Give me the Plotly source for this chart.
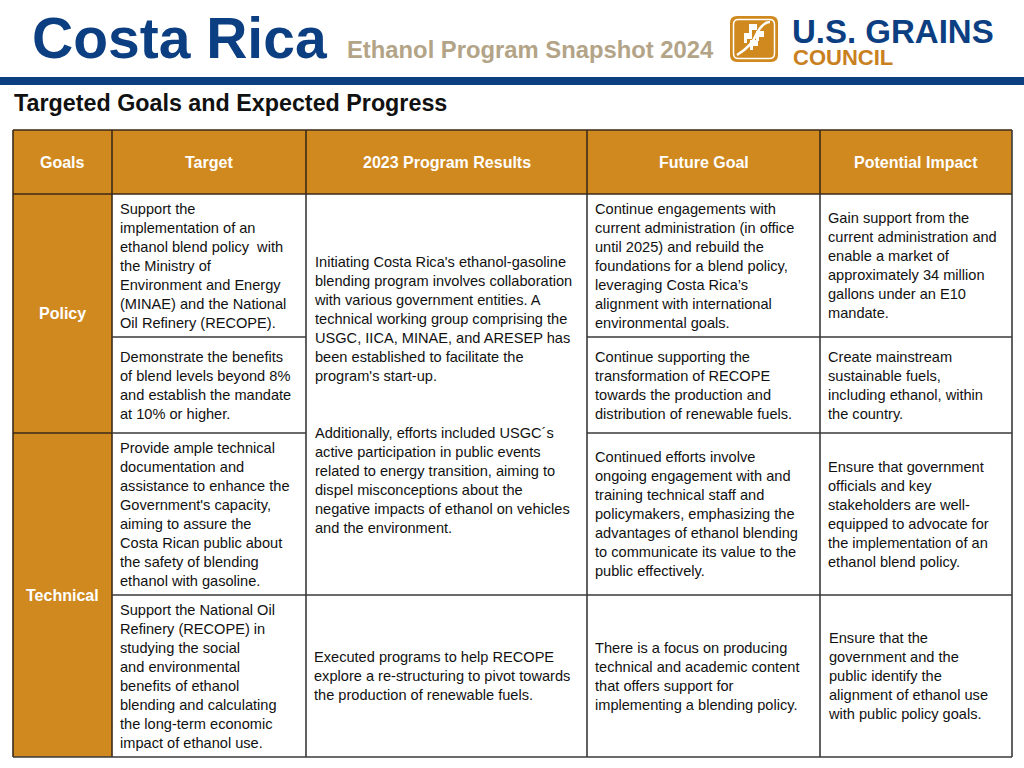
import plotly.graph_objects as go

# ---- content ----
title = "Costa Rica"
subtitle = "Ethanol Program Snapshot 2024"
section = "Targeted Goals and Expected Progress"
headers = ["Goals", "Target", "2023 Program Results", "Future Goal", "Potential Impact"]
goals = ["Policy", "Technical"]
targets = [
    "Support the<br>implementation of an<br>ethanol blend policy  with<br>the Ministry of<br>Environment and Energy<br>(MINAE) and the National<br>Oil Refinery (RECOPE).",
    "Demonstrate the benefits<br>of blend levels beyond 8%<br>and establish the mandate<br>at 10% or higher.",
    "Provide ample technical<br>documentation and<br>assistance to enhance the<br>Government's capacity,<br>aiming to assure the<br>Costa Rican public about<br>the safety of blending<br>ethanol with gasoline.",
    "Support the National Oil<br>Refinery (RECOPE) in<br>studying the social<br>and environmental<br>benefits of ethanol<br>blending and calculating<br>the long-term economic<br>impact of ethanol use.",
]
results = [
    "Initiating Costa Rica's ethanol-gasoline<br>blending program involves collaboration<br>with various government entities. A<br>technical working group comprising the<br>USGC, IICA, MINAE, and ARESEP has<br>been established to facilitate the<br>program's start-up.<br> <br> <br>Additionally, efforts included USGC\u00b4s<br>active participation in public events<br>related to energy transition, aiming to<br>dispel misconceptions about the<br>negative impacts of ethanol on vehicles<br>and the environment.",
    "Executed programs to help RECOPE<br>explore a re-structuring to pivot towards<br>the production of renewable fuels.",
]
future = [
    "Continue engagements with<br>current administration (in office<br>until 2025) and rebuild the<br>foundations for a blend policy,<br>leveraging Costa Rica\u2019s<br>alignment with international<br>environmental goals.",
    "Continue supporting the<br>transformation of RECOPE<br>towards the production and<br>distribution of renewable fuels.",
    "Continued efforts involve<br>ongoing engagement with and<br>training technical staff and<br>policymakers, emphasizing the<br>advantages of ethanol blending<br>to communicate its value to the<br>public effectively.",
    "There is a focus on producing<br>technical and academic content<br>that offers support for<br>implementing a blending policy.",
]
impact = [
    "Gain support from the<br>current administration and<br>enable a market of<br>approximately 34 million<br>gallons under an E10<br>mandate.",
    "Create mainstream<br>sustainable fuels,<br>including ethanol, within<br>the country.",
    "Ensure that government<br>officials and key<br>stakeholders are well-<br>equipped to advocate for<br>the implementation of an<br>ethanol blend policy.",
    "Ensure that the<br>government and the<br>public identify the<br>alignment of ethanol use<br>with public policy goals.",
]

# ---- layout grid (pixels) ----
cols = [13, 112, 306, 587, 820, 1012]
head_top, head_bot = 130, 194
rows = [194, 337, 433, 595, 757]

ORANGE = "#D0891F"
BLUE = "#0C3E82"
TAN = "#B3A487"
LINE = "#3a3a3a"
DARK = "#3b2a18"
BODY_FONT = "Liberation Sans, Arial, sans-serif"
HEAD_FONT = "Liberation Sans, Arial, sans-serif"

fig = go.Figure()
shapes = []
ann = []


def rect(x0, y0, x1, y1, fill, line=None, w=0):
    shapes.append(dict(type="rect", x0=x0, y0=y0, x1=x1, y1=y1, xref="x", yref="y",
                       fillcolor=fill, line=dict(color=line or fill, width=w), layer="below"))


def hline(x0, x1, y, color=LINE, w=1.6):
    shapes.append(dict(type="line", x0=x0, x1=x1, y0=y, y1=y, xref="x", yref="y",
                       line=dict(color=color, width=w)))


def vline(x, y0, y1, color=LINE, w=1.6):
    shapes.append(dict(type="line", x0=x, x1=x, y0=y0, y1=y1, xref="x", yref="y",
                       line=dict(color=color, width=w)))


def text(x, y, s, size, color="#111", family=BODY_FONT, xanchor="left", align="left", height=None):
    a = dict(x=x, y=y, xref="x", yref="y", text=s, showarrow=False,
             xanchor=xanchor, yanchor="middle", align=align,
             font=dict(size=size, color=color, family=family))
    if height:
        a["height"] = height
    ann.append(a)


# header band
rect(0, 77, 1024, 85, BLUE)
text(30, 38, "<b>" + title + "</b>", 57, BLUE, HEAD_FONT)
text(345, 49, "<b>" + subtitle + "</b>", 23.8, TAN, HEAD_FONT)
text(12, 103, "<b>" + section + "</b>", 23.3, "#111", HEAD_FONT)

# logo
def rounded(x0, y0, x1, y1, r):
    return (f"M{x0+r},{y0} L{x1-r},{y0} Q{x1},{y0} {x1},{y0+r} L{x1},{y1-r} "
            f"Q{x1},{y1} {x1-r},{y1} L{x0+r},{y1} Q{x0},{y1} {x0},{y1-r} "
            f"L{x0},{y0+r} Q{x0},{y0} {x0+r},{y0} Z")

shapes.append(dict(type="path", path=rounded(730, 16, 778, 62, 7), xref="x", yref="y",
                   fillcolor=ORANGE, line=dict(width=0)))
shapes.append(dict(type="path", path=rounded(733.5, 19.5, 774.5, 58.5, 5), xref="x", yref="y",
                   fillcolor="rgba(0,0,0,0)", line=dict(color="white", width=1.5)))
shapes.append(dict(type="path", path="M737,55 Q752,46 757,33 Q763,22 770,22",
                   xref="x", yref="y", line=dict(color="white", width=2.5)))
for (bx, by) in [(749, 24), (756, 31), (744, 33), (750, 40)]:
    shapes.append(dict(type="path", path=f"M{bx},{by} L{bx+8},{by} L{bx+8},{by+6} L{bx+3},{by+6} L{bx+3},{by+10} L{bx},{by+10} Z",
                       xref="x", yref="y", fillcolor="white", line=dict(width=0)))
text(790, 31, "<b>U.S. GRAINS</b>", 33, BLUE, HEAD_FONT, height=30)
text(791, 57, "<b>COUNCIL</b>", 22, "#C9801F", HEAD_FONT, height=21)

# table fills
rect(cols[0], head_top, cols[-1], head_bot, ORANGE)
rect(cols[0], rows[0], cols[1], rows[-1], ORANGE)

# grid lines
vline(cols[0], head_top, rows[-1], DARK)
vline(cols[-1], head_top, rows[-1])
for c in cols[1:-1]:
    vline(c, head_top, head_bot, DARK)
    vline(c, head_bot, rows[-1], DARK if c == cols[1] else LINE)
hline(cols[0], cols[-1], head_top, DARK)
hline(cols[0], cols[-1], head_bot, DARK)
hline(cols[0], cols[-1], rows[-1])
hline(cols[1], cols[2], rows[1])
hline(cols[3], cols[-1], rows[1])
hline(cols[0], cols[1], rows[2], DARK)
hline(cols[1], cols[2], rows[2])
hline(cols[3], cols[-1], rows[2])
hline(cols[1], cols[-1], rows[3])

# header text
for i, h in enumerate(headers):
    text((cols[i] + cols[i + 1]) / 2, (head_top + head_bot) / 2, "<b>" + h + "</b>",
         16, "white", BODY_FONT, "center", "center")

# goal labels
text((cols[0] + cols[1]) / 2, (rows[0] + rows[2]) / 2, "<b>" + goals[0] + "</b>", 16, "white", BODY_FONT, "center", "center")
text((cols[0] + cols[1]) / 2, (rows[2] + rows[4]) / 2, "<b>" + goals[1] + "</b>", 16, "white", BODY_FONT, "center", "center")

FS = 14.6
PAD = 5.5
for r in range(4):
    ym = (rows[r] + rows[r + 1]) / 2
    text(cols[1] + PAD, ym, targets[r], FS)
    text(cols[3] + PAD, ym, future[r], FS)
    text(cols[4] + PAD, ym, impact[r], FS)
text(cols[2] + PAD, (rows[0] + rows[3]) / 2, results[0], FS)
text(cols[2] + PAD, (rows[3] + rows[4]) / 2, results[1], FS)

fig.update_layout(
    width=1024, height=768,
    margin=dict(l=0, r=0, t=0, b=0),
    paper_bgcolor="white", plot_bgcolor="white",
    xaxis=dict(range=[0, 1024], visible=False, fixedrange=True),
    yaxis=dict(range=[768, 0], visible=False, fixedrange=True),
    shapes=shapes, annotations=ann,
    showlegend=False,
)

# drop the default 8px page margin so the figure fills the window
fig.write_html("out.html", config={"displayModeBar": False},
               post_script="document.body.style.margin='0';")
